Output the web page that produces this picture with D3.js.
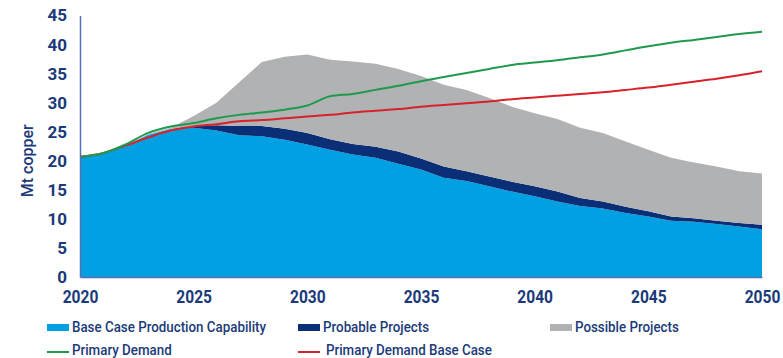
<!DOCTYPE html>
<html>
<head>
<meta charset="utf-8">
<script src="https://cdn.jsdelivr.net/npm/d3@7"></script>
<style>
  html, body { margin: 0; padding: 0; background: #fff; }
  svg { display: block; }
</style>
</head>
<body>
<svg id="chart" width="783" height="358"></svg>
<script>
// Copper supply vs. demand outlook, Mt copper per year
const years = d3.range(2020, 2051);

// Stacked supply components (increments, Mt)
const baseCase = [20.7, 21.2, 22.6, 24.5, 25.5, 25.7, 25.2, 24.4, 24.2, 23.6, 22.8,
                  21.9, 21.1, 20.5, 19.5, 18.5, 17.1, 16.5, 15.6, 14.7, 13.9,
                  13.0, 12.2, 11.8, 11.0, 10.4, 9.7, 9.5, 9.1, 8.7, 8.2];
const probable = [0, 0, 0, 0, 0, 0.3, 0.9, 1.6, 1.8, 1.9, 2.0,
                  1.8, 1.8, 1.9, 2.1, 1.9, 1.9, 1.7, 1.7, 1.7, 1.7,
                  1.7, 1.4, 1.2, 1.1, 0.9, 0.7, 0.6, 0.6, 0.6, 0.8];
const possible = [0, 0, 0, 0.1, 0.2, 1.7, 3.9, 7.5, 11.0, 12.4, 13.5,
                  13.7, 14.2, 14.3, 14.2, 14.2, 14.1, 14.0, 13.5, 12.9, 12.6,
                  12.5, 12.1, 11.8, 11.2, 10.6, 10.1, 9.6, 9.3, 8.9, 8.8];

// Demand lines (Mt)
const primaryDemand = [20.7, 21.3, 22.8, 24.8, 25.9, 26.5, 27.3, 27.9, 28.3, 28.8, 29.5,
                       31.1, 31.5, 32.2, 32.9, 33.7, 34.4, 35.1, 35.8, 36.5, 36.9,
                       37.3, 37.8, 38.3, 39.0, 39.7, 40.3, 40.8, 41.3, 41.8, 42.2];
const primaryDemandBase = [20.7, 21.3, 22.6, 24.0, 25.2, 25.9, 26.3, 26.8, 27.0, 27.3, 27.6,
                           27.9, 28.3, 28.6, 28.9, 29.3, 29.6, 29.9, 30.2, 30.6, 30.9,
                           31.2, 31.5, 31.8, 32.2, 32.6, 33.1, 33.6, 34.1, 34.7, 35.4];

const xTicks = [2020, 2025, 2030, 2035, 2040, 2045, 2050];
const yTicks = [0, 5, 10, 15, 20, 25, 30, 35, 40, 45];

const colors = {
  base: "#00a0e2",
  probable: "#0b2f76",
  possible: "#b1b2b4",
  demand: "#1f9a4d",
  demandBase: "#d8222a",
  text: "#1b3a7a",
  axis: "#5272b8"
};

const svg = d3.select("#chart");
const x = d3.scaleLinear().domain([2020, 2050]).range([80, 762]);
const y = d3.scaleLinear().domain([0, 45]).range([277, 15.5]);

const table = years.map((yr, i) => ({
  year: yr,
  base: baseCase[i],
  probable: probable[i],
  possible: possible[i]
}));
const keys = ["base", "probable", "possible"];
const stacked = d3.stack().keys(keys)(table);

const area = d3.area()
  .x(d => x(d.data.year))
  .y0(d => y(d[0]))
  .y1(d => y(d[1]))
  .curve(d3.curveLinear);

svg.append("g").selectAll("path")
  .data(stacked)
  .join("path")
  .attr("d", area)
  .attr("fill", d => colors[d.key]);

const line = d3.line()
  .x((d, i) => x(years[i]))
  .y(d => y(d))
  .curve(d3.curveMonotoneX);

svg.append("path").datum(primaryDemandBase)
  .attr("d", line).attr("fill", "none")
  .attr("stroke", colors.demandBase).attr("stroke-width", 2);
svg.append("path").datum(primaryDemand)
  .attr("d", line).attr("fill", "none")
  .attr("stroke", colors.demand).attr("stroke-width", 2);

// Condensed look: narrow the glyphs horizontally around each text's anchor
function condense(sel, sx) {
  sel.each(function () {
    const t = d3.select(this);
    const ax = +t.attr("x") || 0;
    t.attr("transform", `translate(${ax},0) scale(${sx},1) translate(${-ax},0)`);
  });
}

// Axes
const xAxis = svg.append("g")
  .attr("transform", `translate(0,${y(0)})`)
  .call(d3.axisBottom(x).tickValues(xTicks).tickFormat(d3.format("d")).tickSize(0).tickPadding(13));
xAxis.select(".domain").attr("stroke", colors.axis).attr("stroke-width", 1.5);
xAxis.selectAll("text")
  .attr("fill", colors.text)
  .style("font-family", "Roboto, sans-serif")
  .style("font-weight", "bold")
  .style("font-size", "19px")
  .call(condense, 0.82);

const yAxis = svg.append("g")
  .attr("transform", `translate(${x(2020)},0)`)
  .call(d3.axisLeft(y).tickValues(yTicks).tickSize(0).tickPadding(13));
yAxis.select(".domain").attr("stroke", colors.axis).attr("stroke-width", 1.5);
yAxis.selectAll("text")
  .attr("fill", colors.text)
  .style("font-family", "Roboto, sans-serif")
  .style("font-weight", "bold")
  .style("font-size", "17px");

svg.append("text")
  .attr("transform", `translate(33,${y(20)}) rotate(-90)`)
  .attr("text-anchor", "middle")
  .attr("fill", colors.text)
  .style("font-family", "Roboto, sans-serif")
  .style("font-weight", "500")
  .style("font-size", "16px")
  .text("Mt copper");

// Legend
const swatches = [
  { label: "Base Case Production Capability", color: colors.base, x: 47, tx: 72 },
  { label: "Probable Projects", color: colors.probable, x: 298, tx: 323 },
  { label: "Possible Projects", color: colors.possible, x: 550, tx: 575 }
];
const lineKeys = [
  { label: "Primary Demand", color: colors.demand, x: 47, tx: 72 },
  { label: "Primary Demand Base Case", color: colors.demandBase, x: 298, tx: 326 }
];

const lg = svg.append("g");
function legendText(s, yPos) {
  lg.append("text").attr("x", s.tx).attr("y", yPos)
    .attr("fill", colors.text)
    .style("font-family", "Roboto, sans-serif").style("font-weight", "500").style("font-size", "15px")
    .text(s.label)
    .call(condense, 0.89);
}
swatches.forEach(s => {
  lg.append("rect").attr("x", s.x).attr("y", 324).attr("width", 22).attr("height", 7).attr("fill", s.color);
  legendText(s, 332.5);
});
lineKeys.forEach(s => {
  lg.append("line").attr("x1", s.x).attr("x2", s.x + 22).attr("y1", 352).attr("y2", 352)
    .attr("stroke", s.color).attr("stroke-width", 2);
  legendText(s, 355);
});
</script>
</body>
</html>
